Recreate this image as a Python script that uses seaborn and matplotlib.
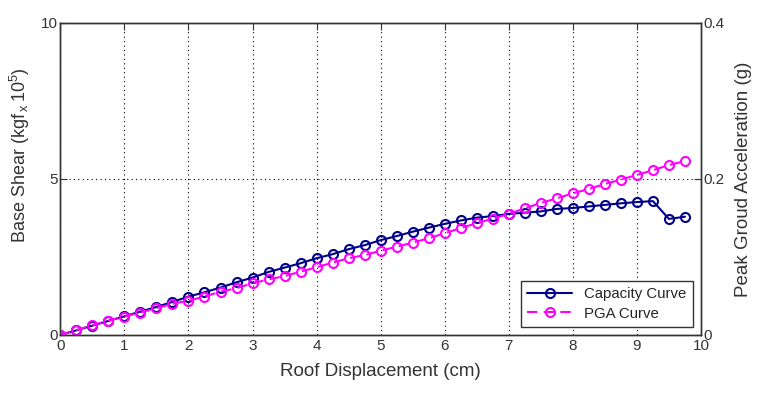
import numpy as np
import pandas as pd
import matplotlib
matplotlib.use("Agg")
import matplotlib.pyplot as plt
import seaborn as sns

# ---- data ----
displacement = [0.0, 0.25, 0.5, 0.75, 1.0, 1.25, 1.5, 1.75, 2.0, 2.25,
                2.5, 2.75, 3.0, 3.25, 3.5, 3.75, 4.0, 4.25, 4.5, 4.75,
                5.0, 5.25, 5.5, 5.75, 6.0, 6.25, 6.5, 6.75, 7.0, 7.25,
                7.5, 7.75, 8.0, 8.25, 8.5, 8.75, 9.0, 9.25, 9.5, 9.75]
base_shear = [0.0, 0.15, 0.30, 0.45, 0.60, 0.75, 0.90, 1.06, 1.23, 1.37,
              1.52, 1.69, 1.84, 2.02, 2.16, 2.30, 2.46, 2.59, 2.75, 2.88,
              3.04, 3.17, 3.31, 3.44, 3.56, 3.67, 3.76, 3.81, 3.88, 3.92,
              3.96, 4.04, 4.07, 4.12, 4.17, 4.22, 4.26, 4.29, 3.72, 3.79]
pga = [0.0, 0.0064, 0.0124, 0.0184, 0.0236, 0.0288, 0.0344, 0.0400, 0.0440, 0.0492,
       0.0556, 0.0600, 0.0664, 0.0712, 0.0756, 0.0812, 0.0868, 0.0928, 0.0984, 0.1024,
       0.1080, 0.1132, 0.1184, 0.1240, 0.1304, 0.1372, 0.1432, 0.1492, 0.1552, 0.1624,
       0.1692, 0.1752, 0.1816, 0.1872, 0.1936, 0.1992, 0.2052, 0.2112, 0.2180, 0.2228]
x_ticks = [0, 1, 2, 3, 4, 5, 6, 7, 8, 9, 10]
left_ticks = [0, 5, 10]
right_ticks = [0, 0.2, 0.4]
right_tick_labels = ["0", "0.2", "0.4"]
series_names = ["Capacity Curve", "PGA Curve"]

df = pd.DataFrame({"disp": displacement, "shear": base_shear, "pga": pga})

sns.set_style("white")
plt.rcParams["font.family"] = ["Liberation Sans", "DejaVu Sans"]
plt.rcParams["mathtext.fontset"] = "custom"
plt.rcParams["mathtext.rm"] = "Liberation Sans"
plt.rcParams["mathtext.it"] = "Liberation Sans"

fig = plt.figure(figsize=(7.64, 3.93), dpi=100)
fig.patch.set_facecolor("white")
ax = fig.add_axes([0.079, 0.1476, 0.8385, 0.794])
ax2 = ax.twinx()

cap_color = "#00008B"
pga_color = "#FF00FF"
txt_color = "#333333"

sns.lineplot(data=df, x="disp", y="shear", ax=ax, color=cap_color,
             marker="o", markersize=6.5, markerfacecolor="none",
             markeredgecolor=cap_color, markeredgewidth=1.5, linewidth=1.5,
             label=series_names[0], legend=False, zorder=3)
sns.lineplot(data=df, x="disp", y="pga", ax=ax2, color=pga_color,
             marker="o", markersize=6.5, markerfacecolor="none",
             markeredgecolor=pga_color, markeredgewidth=1.5, linewidth=1.5,
             linestyle="--", label=series_names[1], legend=False, zorder=2)
ax2.lines[0].set_dashes([5, 3])

ax.set_xlim(0, 10)
ax.set_ylim(0, 10)
ax2.set_ylim(0, 0.4)
ax.set_xticks(x_ticks)
ax.set_yticks(left_ticks)
ax2.set_yticks(right_ticks)
ax.set_xticklabels([str(t) for t in x_ticks])
ax.set_yticklabels([str(t) for t in left_ticks])
ax2.set_yticklabels(right_tick_labels)

ax.grid(True, axis="both", color="black", linestyle=(0, (1, 3)), linewidth=0.8)
ax.set_axisbelow(True)

for a in (ax, ax2):
    for s in a.spines.values():
        s.set_color(txt_color)
        s.set_linewidth(1.0)
ax.tick_params(axis="x", direction="in", length=5, top=True, labelsize=11,
               colors=txt_color, labelcolor=txt_color, pad=3)
ax.tick_params(axis="y", direction="in", length=5, labelsize=11,
               colors=txt_color, labelcolor=txt_color, pad=2)
ax2.tick_params(axis="y", direction="in", length=5, labelsize=11,
                colors=txt_color, labelcolor=txt_color, pad=2)

ax.set_xlabel("Roof Displacement (cm)", fontsize=13.5, color=txt_color, labelpad=7)
ax.set_ylabel(r"Base Shear (kgf$\,_{\mathrm{x}}\,$10$^5$)", fontsize=13, color=txt_color)
ax.yaxis.set_label_coords(-0.044, 0.575)
ax2.set_ylabel("Peak Groud Acceleration (g)", fontsize=13.5, color=txt_color, labelpad=7)

handles = [ax.lines[0], ax2.lines[0]]
leg = ax.legend(handles, series_names, loc="lower right", fontsize=10.8,
                frameon=True, fancybox=False, edgecolor=txt_color,
                borderaxespad=0.5, handlelength=3, framealpha=1,
                borderpad=0.45, labelspacing=0.35)
leg.get_frame().set_linewidth(1.0)
leg.set_zorder(10)

fig.savefig("out.png", dpi=100, facecolor="white")
